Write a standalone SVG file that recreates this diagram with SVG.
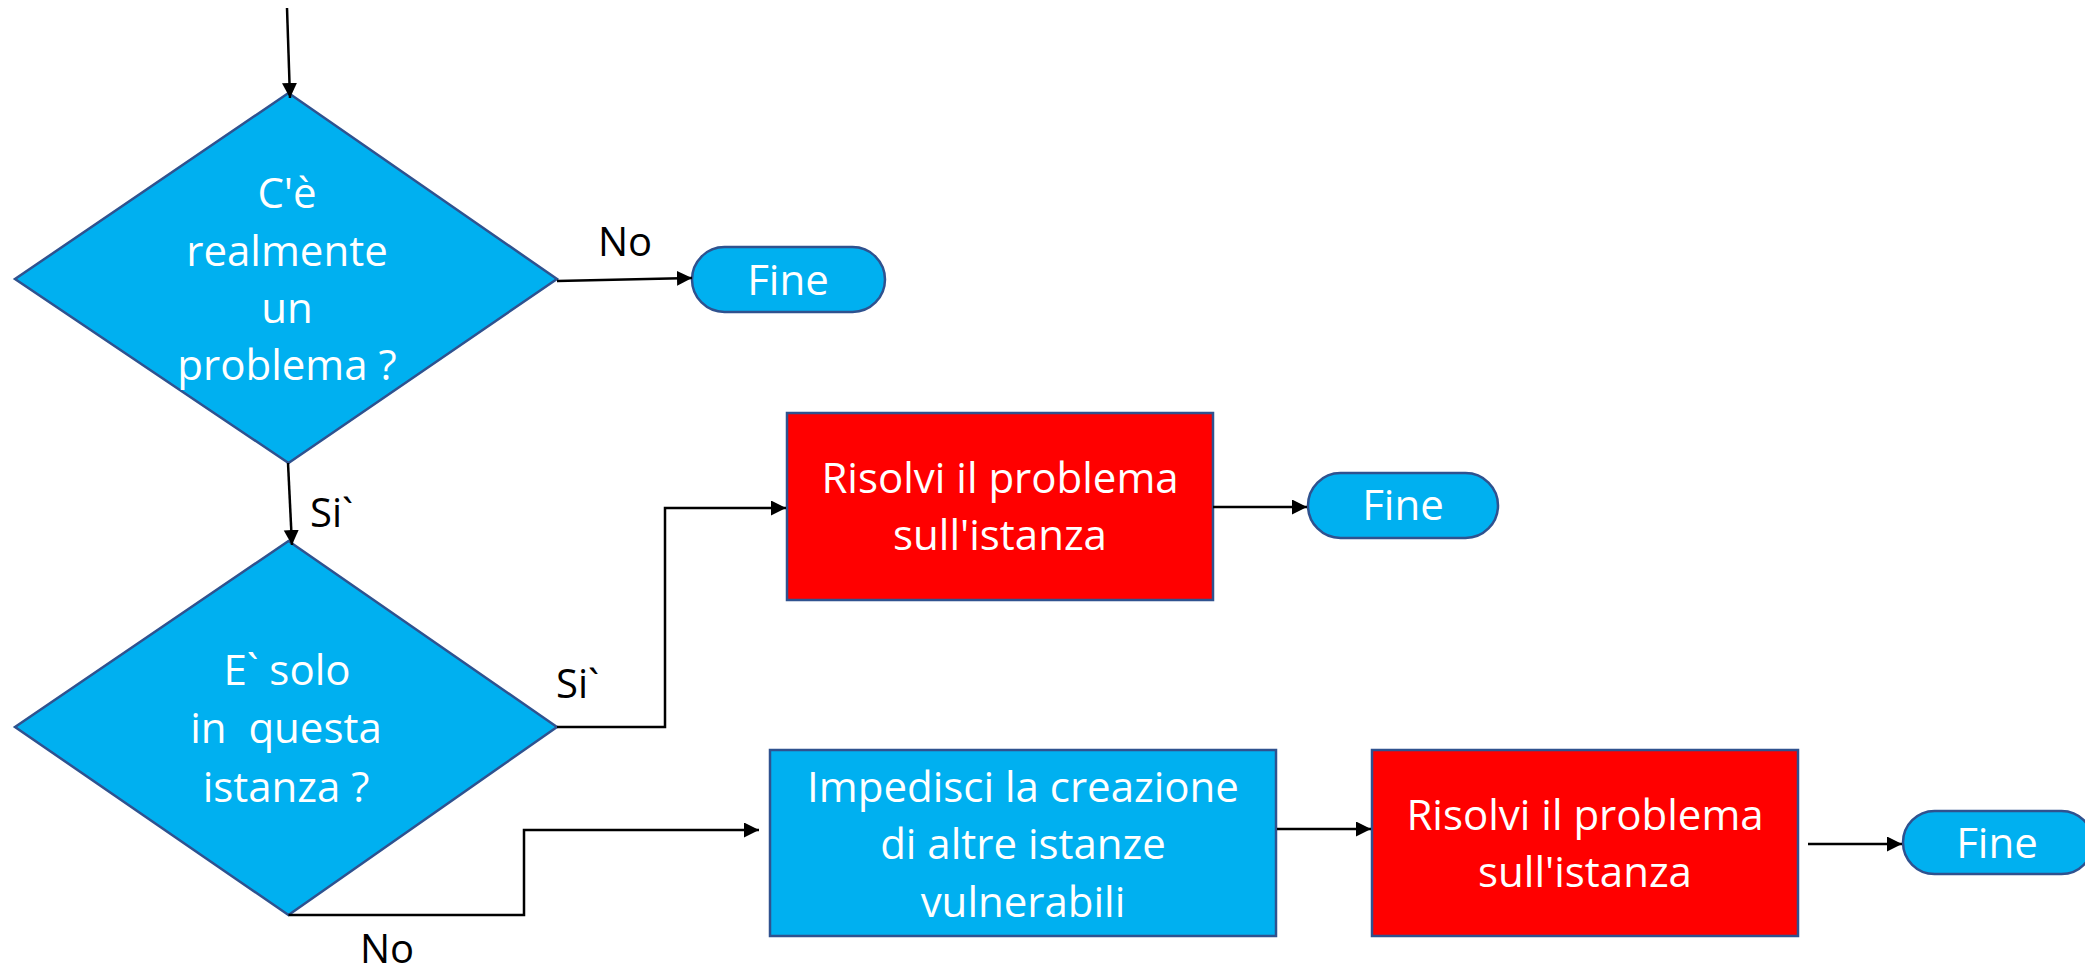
<svg xmlns="http://www.w3.org/2000/svg" width="2085" height="972" viewBox="0 0 2085 972">
  <style>
    .dec { fill: #00B0F0; stroke: #2F528F; stroke-width: 2.5; }
    .act { fill: #00B0F0; stroke: #2F528F; stroke-width: 2.5; }
    .fix { fill: #FF0000; stroke: #2F528F; stroke-width: 2.5; }
    .end { fill: #00B0F0; stroke: #2F528F; stroke-width: 2.5; }
    .in { font-family: "Open Sans", "Noto Sans", sans-serif; font-size: 42px; fill: #FFFFFF; text-anchor: middle; }
    .lbl { font-family: "Open Sans", "Noto Sans", sans-serif; font-size: 40px; fill: #000000; }
    .wire { fill: none; stroke: #000000; stroke-width: 2.5; }
  </style>
  <defs>
    <marker id="arrow" markerUnits="userSpaceOnUse" markerWidth="16" markerHeight="16" refX="15" refY="7.5" orient="auto">
      <path d="M0,0 L15,7.5 L0,15 z" fill="#000000"/>
    </marker>
  </defs>

  <rect width="2085" height="972" fill="#FFFFFF"/>

  <!-- decision: is there really a problem -->
  <g id="decision-problem">
    <polygon class="dec" points="288.5,93 557,279 288.5,463 15,279"/>
    <text class="in" x="287" y="208">C'è</text>
    <text class="in" x="287" y="266">realmente</text>
    <text class="in" x="287" y="323">un</text>
    <text class="in" x="287" y="380">problema ?</text>
  </g>

  <!-- end after "No" -->
  <g id="end-1">
    <rect class="end" x="692" y="247" width="193" height="65" rx="32.5"/>
    <text class="in" x="788" y="295">Fine</text>
  </g>

  <!-- decision: only in this instance -->
  <g id="decision-instance">
    <polygon class="dec" points="288.5,541 557,727 288.5,915 15,727"/>
    <text class="in" x="287" y="685">E` solo</text>
    <text class="in" x="286" y="743" xml:space="preserve">in  questa</text>
    <text class="in" x="286" y="802">istanza ?</text>
  </g>

  <!-- fix on the single instance -->
  <g id="fix-instance">
    <rect class="fix" x="787" y="413" width="426" height="187"/>
    <text class="in" x="1000" y="493">Risolvi il problema</text>
    <text class="in" x="1000" y="550">sull'istanza</text>
  </g>

  <g id="end-2">
    <rect class="end" x="1308" y="473" width="190" height="65" rx="32.5"/>
    <text class="in" x="1403" y="520">Fine</text>
  </g>

  <!-- prevent new vulnerable instances -->
  <g id="prevent-creation">
    <rect class="act" x="770" y="750" width="506" height="186"/>
    <text class="in" x="1023" y="802">Impedisci la creazione</text>
    <text class="in" x="1023" y="859">di altre istanze</text>
    <text class="in" x="1023" y="917">vulnerabili</text>
  </g>

  <g id="fix-instance-2">
    <rect class="fix" x="1372" y="750" width="426" height="186"/>
    <text class="in" x="1585" y="830">Risolvi il problema</text>
    <text class="in" x="1585" y="887">sull'istanza</text>
  </g>

  <g id="end-3">
    <rect class="end" x="1903" y="811" width="190" height="63" rx="31.5"/>
    <text class="in" x="1997" y="858">Fine</text>
  </g>

  <!-- connectors -->
  <g id="connectors">
    <path class="wire" d="M287,8 L290,98" marker-end="url(#arrow)"/>
    <path class="wire" d="M557,281 L692,278" marker-end="url(#arrow)"/>
    <path class="wire" d="M288,463 L292,545" marker-end="url(#arrow)"/>
    <path class="wire" d="M557,727 L665,727 L665,508 L786,508" marker-end="url(#arrow)"/>
    <path class="wire" d="M1213,507 L1307,507" marker-end="url(#arrow)"/>
    <path class="wire" d="M288.5,915 L524,915 L524,830 L759,830" marker-end="url(#arrow)"/>
    <path class="wire" d="M1277,829 L1371,829" marker-end="url(#arrow)"/>
    <path class="wire" d="M1808,844 L1902,844" marker-end="url(#arrow)"/>
  </g>

  <!-- branch labels -->
  <g id="labels">
    <text class="lbl" x="598" y="256">No</text>
    <text class="lbl" x="310" y="527">Si`</text>
    <text class="lbl" x="556" y="698">Si`</text>
    <text class="lbl" x="360" y="963">No</text>
  </g>
</svg>
